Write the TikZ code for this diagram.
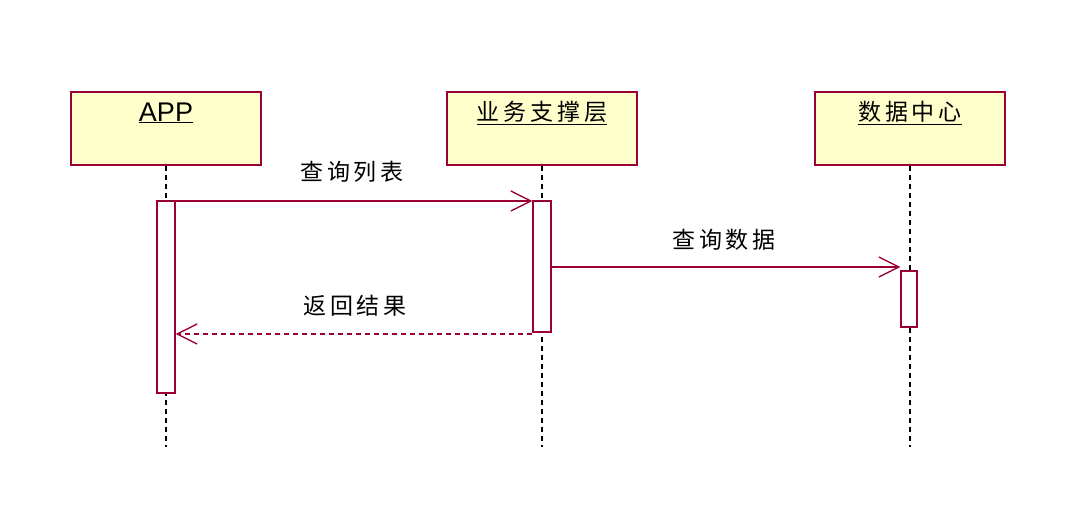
\documentclass[tikz,border=0pt]{standalone}
\usepackage{fontspec}
\setmainfont{Liberation Sans}
\newfontfamily\cjk[LetterSpace=17]{Noto Sans CJK SC}
\usetikzlibrary{arrows.meta}
\definecolor{roseline}{RGB}{153,0,51}
\definecolor{rosefill}{RGB}{255,255,204}
\tikzset{
  objbox/.style={draw=roseline, fill=rosefill, line width=1.4pt, minimum width=190pt, minimum height=73pt, inner sep=0pt},
  objlabel/.style={inner sep=0pt, anchor=center},
  actbar/.style={draw=roseline, fill=white, line width=1.4pt, inner sep=0pt},
  lifeline/.style={draw=black, line width=1.5pt, dash pattern=on 5pt off 4pt},
  msg/.style={draw=roseline, line width=1.4pt, -{Straight Barb[length=20pt,width=20pt,line width=1.3pt]}},
  retmsg/.style={msg, dash pattern=on 5pt off 4pt},
  msglabel/.style={font=\cjk\fontsize{23}{25}\selectfont, inner sep=0pt}
}
\begin{document}
\begin{tikzpicture}[x=1pt,y=-1pt]
\useasboundingbox (0,0) rectangle (1082,525);
% objects
\node[objbox] (app) at (166,128.5) {};
\node[objbox] (biz) at (542,128.5) {};
\node[objbox] (dc) at (910,128.5) {};
\node[objlabel] (appt) at (166,113) {\fontsize{27}{29}\selectfont\underline{APP}};
\node[objlabel] (bizt) at (542,113) {\cjk\fontsize{23}{25}\selectfont\underline{业务支撑层}};
\node[objlabel] (dct) at (910,113) {\cjk\fontsize{23}{25}\selectfont\underline{数据中心}};
% lifeline ends
\coordinate (append) at (166,447);
\coordinate (bizend) at (542,447);
\coordinate (dcend) at (910,447);
\draw[lifeline] (app.south) -- (append);
\draw[lifeline] (biz.south) -- (bizend);
\draw[lifeline] (dc.south) -- (dcend);
% activation bars
\node[actbar, minimum width=18pt, minimum height=192pt] (appbar) at (166,297) {};
\node[actbar, minimum width=18pt, minimum height=131pt] (bizbar) at (542,266.5) {};
\node[actbar, minimum width=16pt, minimum height=56pt] (dcbar) at (909,299) {};
% messages
\coordinate (m1) at (0,201);
\coordinate (m2) at (0,267);
\coordinate (m3) at (0,334);
\draw[msg] (appbar.east |- m1) -- (bizbar.west |- m1);
\draw[msg] (bizbar.east |- m2) -- (dcbar.west |- m2);
\draw[retmsg] (bizbar.west |- m3) -- (appbar.east |- m3);
\node[msglabel] (l1) at (352,172) {查询列表};
\node[msglabel] (l2) at (724,240) {查询数据};
\node[msglabel] (l3) at (355,306) {返回结果};
\end{tikzpicture}
\end{document}
